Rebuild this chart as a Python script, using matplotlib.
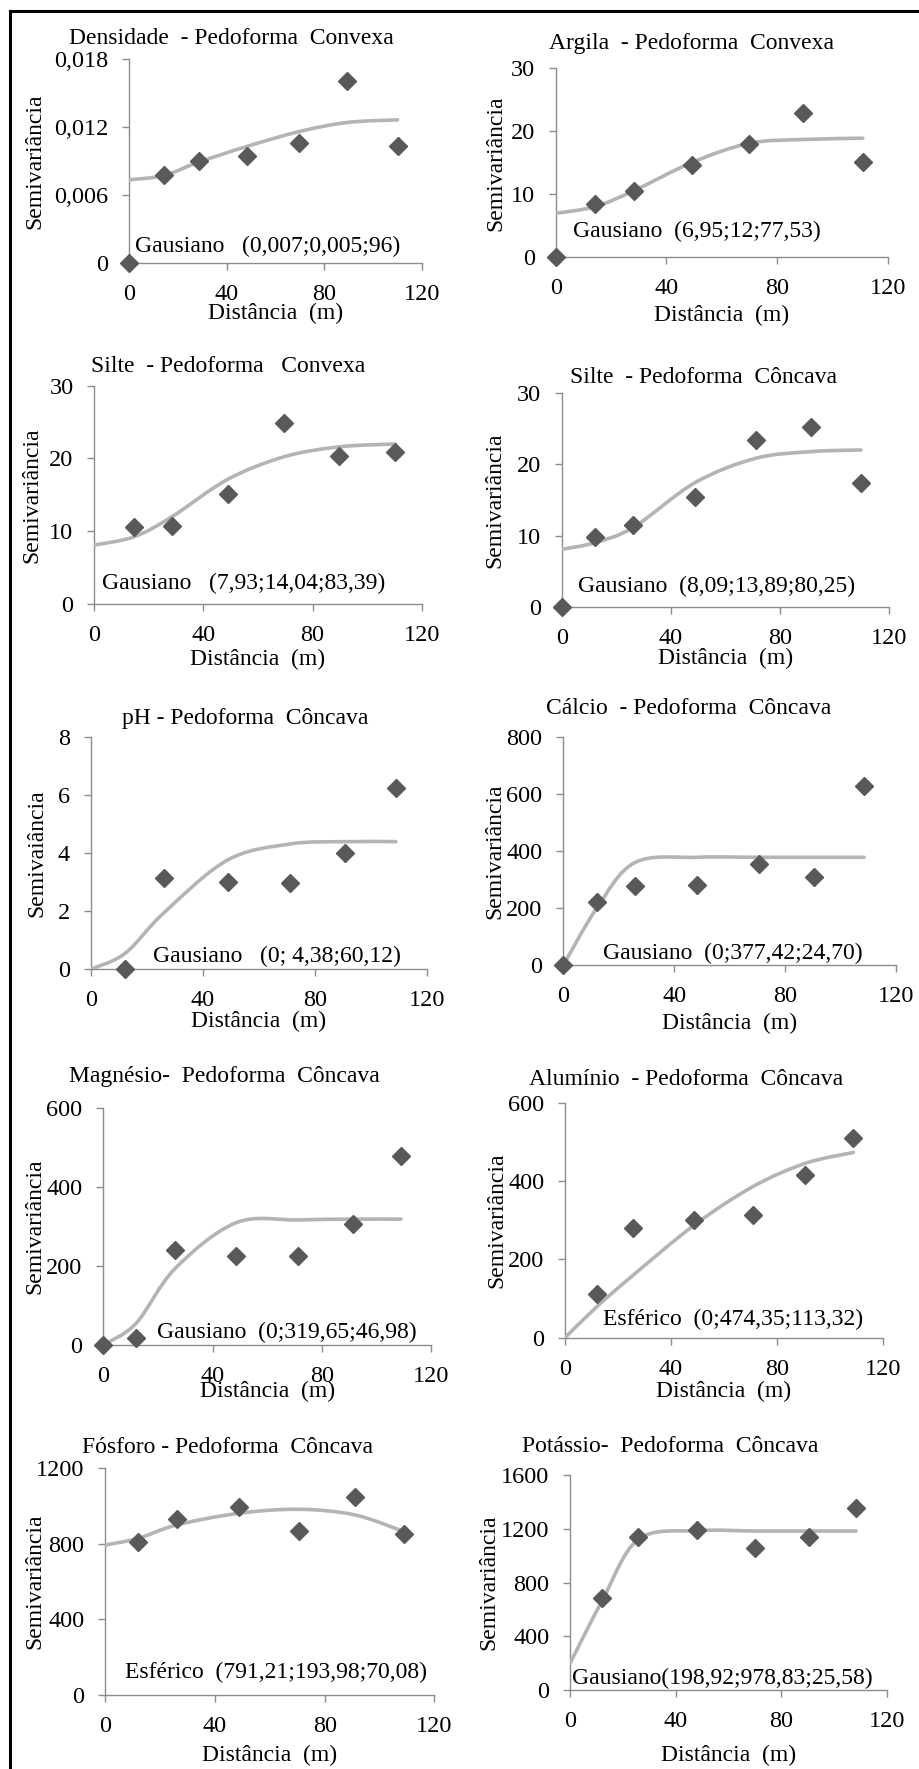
import numpy as np
import matplotlib
matplotlib.use("Agg")
import matplotlib.pyplot as plt
from matplotlib.path import Path
from matplotlib.patches import PathPatch
from matplotlib.lines import Line2D

plt.rcParams['font.family'] = ['Liberation Serif', 'DejaVu Serif']

# ---------------- data ----------------
titles = ["Densidade  - Pedoforma  Convexa", "Argila  - Pedoforma  Convexa",
          "Silte  - Pedoforma   Convexa", "Silte  - Pedoforma  Côncava",
          "pH - Pedoforma  Côncava", "Cálcio  - Pedoforma  Côncava",
          "Magnésio-  Pedoforma  Côncava", "Alumínio  - Pedoforma  Côncava",
          "Fósforo - Pedoforma  Côncava", "Potássio-  Pedoforma  Côncava"]
ylabels = ["Semivariância"] * 10
ylabels[4] = "Semivaiância"
xlabel = "Distância  (m)"
xticks = [0, 40, 80, 120]

models = ["Gausiano   (0,007;0,005;96)", "Gausiano  (6,95;12;77,53)",
          "Gausiano   (7,93;14,04;83,39)", "Gausiano  (8,09;13,89;80,25)",
          "Gausiano   (0; 4,38;60,12)", "Gausiano  (0;377,42;24,70)",
          "Gausiano  (0;319,65;46,98)", "Esférico  (0;474,35;113,32)",
          "Esférico  (791,21;193,98;70,08)", "Gausiano(198,92;978,83;25,58)"]
model_pos = [(2.3, 0.00147), (6.4, 4.07), (2.7, 2.84), (6.1, 2.81), (22.1, 0.44),
             (14.4, 42), (19.5, 31.3), (14.5, 46.8), (7.2, 118), (0.6, 86.8)]

yticks = [[0, 0.006, 0.012, 0.018], [0, 10, 20, 30], [0, 10, 20, 30], [0, 10, 20, 30],
          [0, 2, 4, 6, 8], [0, 200, 400, 600, 800], [0, 200, 400, 600],
          [0, 200, 400, 600], [0, 400, 800, 1200], [0, 400, 800, 1200, 1600]]
yticklabels = [["0", "0,006", "0,012", "0,018"], ["0", "10", "20", "30"],
               ["0", "10", "20", "30"], ["0", "10", "20", "30"],
               ["0", "2", "4", "6", "8"], ["0", "200", "400", "600", "800"],
               ["0", "200", "400", "600"], ["0", "200", "400", "600"],
               ["0", "400", "800", "1200"], ["0", "400", "800", "1200", "1600"]]

# experimental semivariances
dens_x = [0, 14.2, 28.6, 48.2, 69.8, 89.4, 110.0]
dens_y = [0, 0.00778, 0.00901, 0.00948, 0.01057, 0.01606, 0.01034]
arg_x = [0, 14.2, 28.3, 49.4, 70.0, 89.5, 111.0]
arg_y = [0, 8.47, 10.58, 14.65, 17.93, 22.96, 15.08]
siltcv_x = [14.7, 28.5, 48.9, 69.7, 89.8, 110.2]
siltcv_y = [10.54, 10.76, 15.12, 24.83, 20.38, 20.84]
siltcc_x = [0, 12.2, 26.3, 48.9, 71.1, 91.4, 109.7]
siltcc_y = [0, 9.84, 11.48, 15.47, 23.44, 25.22, 17.44]
ph_x = [12.3, 26.0, 48.9, 71.2, 90.8, 109.0]
ph_y = [0.0, 3.13, 3.01, 2.96, 4.01, 6.25]
ca_x = [0, 12.0, 25.9, 48.3, 70.6, 90.5, 108.5]
ca_y = [0, 220, 277.5, 281, 354.5, 310, 627]
mg_x = [0, 12.0, 26.3, 48.6, 71.2, 91.6, 109.0]
mg_y = [0, 16.9, 240.8, 225.6, 225.6, 306, 479]
al_x = [12.0, 25.8, 48.9, 70.9, 90.7, 108.9]
al_y = [110.6, 280.9, 300.4, 313.2, 415.3, 510.6]
p_x = [12.0, 26.0, 48.8, 70.8, 91.1, 108.9]
p_y = [811.8, 930, 997, 868, 1050, 852]
k_x = [12.0, 25.9, 48.0, 70.1, 90.7, 108.4]
k_y = [687, 1136, 1191, 1054, 1141, 1352]

# fitted model values
dens_fx = [0, 14.2, 28.6, 48.2, 69.8, 89.4, 110.0]
dens_fy = [0.00734, 0.00772, 0.0089, 0.01028, 0.0116, 0.0124, 0.01263]
arg_fx = [0, 14.2, 28.3, 49.4, 70.0, 89.5, 111.0]
arg_fy = [6.98, 8.04, 10.58, 15.08, 18.1, 18.7, 18.9]
siltcv_fx = [0, 14.7, 28.5, 48.9, 69.7, 89.8, 110.2]
siltcv_fy = [8.1, 9.25, 12.0, 17.13, 20.25, 21.6, 21.99]
siltcc_fx = [0, 12.2, 26.3, 48.9, 71.1, 91.4, 109.7]
siltcc_fy = [8.06, 9.0, 11.16, 17.44, 20.86, 21.8, 22.03]
ph_fx = [0, 12.3, 26.0, 48.9, 71.2, 90.8, 109.0]
ph_fy = [0, 0.55, 1.93, 3.76, 4.31, 4.39, 4.39]
ca_fx = [0, 12.0, 25.9, 48.3, 70.6, 90.5, 108.5]
ca_fy = [0, 199, 360, 378, 378, 378, 378]
mg_fx = [0, 12.0, 26.3, 48.6, 71.2, 91.6, 109.0]
mg_fy = [0, 55, 194, 310, 317, 319, 319]
al_fx = [0, 12.0, 25.8, 48.9, 70.9, 90.7, 108.9]
al_fy = [0, 79, 160, 288, 385.5, 445, 473]
p_fx = [0, 12.0, 26.0, 48.8, 70.8, 91.1, 108.9]
p_fy = [794, 829, 900, 962, 983, 953, 865]
k_fx = [0, 12.0, 25.9, 48.0, 70.1, 90.7, 108.4]
k_fy = [198, 657, 1121, 1186, 1183, 1183, 1183]

points = [(dens_x, dens_y), (arg_x, arg_y), (siltcv_x, siltcv_y), (siltcc_x, siltcc_y),
          (ph_x, ph_y), (ca_x, ca_y), (mg_x, mg_y), (al_x, al_y), (p_x, p_y), (k_x, k_y)]
fits = [(dens_fx, dens_fy), (arg_fx, arg_fy), (siltcv_fx, siltcv_fy), (siltcc_fx, siltcc_fy),
        (ph_fx, ph_fy), (ca_fx, ca_fy), (mg_fx, mg_fy), (al_fx, al_fy), (p_fx, p_fy), (k_fx, k_fy)]

# ---------------- layout (pixels) ----------------
W, H = 919, 1769
# left, right, bottom, top of plot area
boxes = [(129, 422, 263, 59), (555.7, 887.7, 257.3, 68.3),
         (94.3, 421.7, 604, 385.7), (561.7, 889, 606.7, 393.3),
         (90.7, 426.7, 969.3, 736.7), (563.3, 896, 965.3, 736.7),
         (103.3, 431, 1345, 1108.3), (565, 882.7, 1337.7, 1102.7),
         (105.3, 434.3, 1695, 1468.3), (570, 886.7, 1690, 1475)]
title_pos = [(231, 38), (691.7, 43), (228.5, 366.7), (703, 377.7), (245, 718.3),
             (688.7, 709), (224.5, 1076.7), (685.8, 1079.3), (227.7, 1447.7), (670.5, 1446.7)]
ylab_x = [35, 496, 31.7, 495, 36.7, 495, 35, 496.7, 35, 489.3]
xlab_y = [313.3, 315, 659.3, 658.3, 1021.7, 1023.3, 1391.7, 1391.7, 1755, 1755]

FS = 17
TFS = 17.5
SPINE = '#8c8c8c'
CURVE = '#b4b4b4'
MARK = '#595959'

fig = plt.figure(figsize=(W / 100, H / 100), dpi=100)


def fx(x):
    return x / W


def fy(y):
    return 1 - y / H


def smooth_path(xs, ys):
    P = np.column_stack([xs, ys]).astype(float)
    verts = [P[0]]
    codes = [Path.MOVETO]
    n = len(P)
    for i in range(n - 1):
        p0 = P[i - 1] if i > 0 else P[i]
        p1, p2 = P[i], P[i + 1]
        p3 = P[i + 2] if i + 2 < n else P[i + 1]
        c1 = p1 + (p2 - p0) / 6.0
        c2 = p2 - (p3 - p1) / 6.0
        verts += [c1, c2, p2]
        codes += [Path.CURVE4] * 3
    return Path(verts, codes)


for i in range(10):
    l, r, b, t = boxes[i]
    ax = fig.add_axes([fx(l), fy(b), (r - l) / W, (b - t) / H])
    ax.set_xlim(0, 120)
    ax.set_ylim(yticks[i][0], yticks[i][-1])
    ax.set_facecolor('none')
    for s in ['top', 'right']:
        ax.spines[s].set_visible(False)
    for s in ['left', 'bottom']:
        ax.spines[s].set_color(SPINE)
        ax.spines[s].set_linewidth(1.0)
    ax.set_xticks(xticks)
    ax.set_xticklabels([str(v) for v in xticks])
    ax.set_yticks(yticks[i])
    ax.set_yticklabels(yticklabels[i])
    ax.tick_params(direction='out', length=5, width=1, color=SPINE,
                   labelsize=TFS, pad=10, labelcolor='black')

    fxs, fys = fits[i]
    patch = PathPatch(smooth_path(fxs, fys), facecolor='none', edgecolor=CURVE,
                      lw=2.6, capstyle='round', joinstyle='round', zorder=3)
    ax.add_patch(patch)

    pxs, pys = points[i]
    ax.plot(pxs, pys, linestyle='none', marker='D', markersize=9,
            color=MARK, markeredgecolor=MARK, zorder=4, clip_on=False)

    mx, my = model_pos[i]
    ax.text(mx, my, models[i], fontsize=FS, ha='left', va='center', zorder=5)

    ax.set_ylabel(ylabels[i], fontsize=FS, va='center', ha='center')
    ax.yaxis.set_label_coords((ylab_x[i] - l) / (r - l), 0.5)
    ax.set_xlabel(xlabel, fontsize=FS, va='center', ha='center')
    ax.xaxis.set_label_coords(0.5, -(xlab_y[i] - b) / (b - t))

    tx, ty = title_pos[i]
    fig.text(fx(tx), fy(ty), titles[i], fontsize=FS, ha='center', va='center')

# outer frame (left and top edges)
fig.add_artist(Line2D([fx(10), fx(10)], [fy(11), 0], transform=fig.transFigure,
                      color='black', lw=2.2))
fig.add_artist(Line2D([fx(10), 1], [fy(11), fy(11)], transform=fig.transFigure,
                      color='black', lw=2.2))

fig.savefig("out.png", dpi=100)
